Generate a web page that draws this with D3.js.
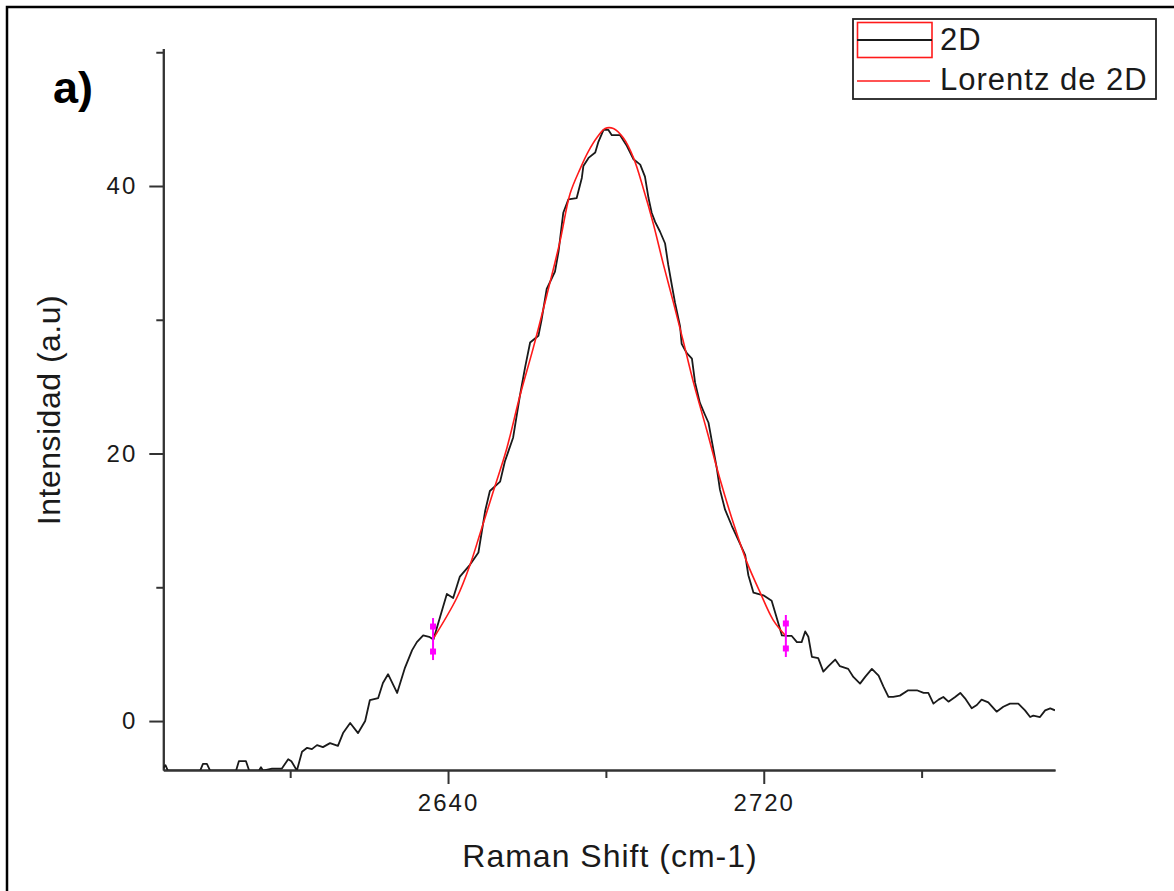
<!DOCTYPE html>
<html>
<head>
<meta charset="utf-8">
<script src="https://cdn.jsdelivr.net/npm/d3@7"></script>
<style>
  body { margin: 0; background: #fff; }
  text { font-family: "Liberation Sans", Arial, sans-serif; fill: #1a1a1a; }
</style>
</head>
<body>
<div id="chart"></div>
<script>
var ramanShift = [2567.9, 2568.4, 2569.0, 2577.2, 2577.9, 2578.9, 2579.7, 2586.3, 2587.0, 2588.8,
  2589.6, 2592.1, 2592.6, 2593.1, 2595.4, 2597.9, 2599.5, 2600.3, 2601.7, 2603.0,
  2604.3, 2605.5, 2606.8, 2608.3, 2610.1, 2612.1, 2613.4, 2615.2, 2617.2, 2619.0,
  2620.2, 2622.3, 2623.5, 2624.8, 2627.1, 2629.1, 2630.9, 2632.1, 2633.7, 2635.2,
  2636.3, 2638.0, 2639.7, 2641.3, 2643.0, 2645.6, 2647.7, 2649.4, 2650.6, 2653.2,
  2654.4, 2656.5, 2658.2, 2659.5, 2660.8, 2662.9, 2663.7, 2665.0, 2667.1, 2668.0,
  2669.2, 2670.5, 2672.6, 2673.9, 2674.3, 2675.6, 2677.3, 2678.1, 2679.4, 2680.6,
  2681.5, 2683.6, 2685.3, 2687.0, 2688.7, 2689.9, 2690.8, 2691.6, 2692.5, 2693.7,
  2695.0, 2695.8, 2696.7, 2697.5, 2698.8, 2699.2, 2700.5, 2701.8, 2702.6, 2703.8,
  2705.1, 2706.0, 2706.8, 2708.1, 2708.9, 2710.2, 2711.9, 2713.6, 2715.3, 2716.1,
  2717.4, 2719.9, 2722.0, 2723.3, 2724.6, 2726.0, 2727.1, 2728.4, 2729.6, 2730.5,
  2731.3, 2732.2, 2733.8, 2735.1, 2736.4, 2738.1, 2739.3, 2741.4, 2742.7, 2744.4,
  2745.7, 2747.4, 2749.1, 2750.3, 2751.6, 2752.8, 2754.5, 2756.6, 2758.8, 2760.5,
  2761.7, 2763.0, 2764.3, 2765.5, 2766.8, 2768.5, 2769.8, 2771.0, 2772.7, 2774.0,
  2775.2, 2776.9, 2779.0, 2780.7, 2782.4, 2784.5, 2786.2, 2787.5, 2788.3, 2790.0,
  2791.3, 2792.6, 2793.8];
var intensity2D = [-3.5, -3.3, -3.7, -3.7, -3.2, -3.2, -3.7, -3.7, -3.0, -3.0,
  -3.7, -3.7, -3.45, -3.7, -3.55, -3.55, -2.85, -3.0, -3.7, -2.3,
  -2.0, -2.1, -1.8, -1.95, -1.65, -1.85, -0.9, -0.15, -0.9, 0.0,
  1.57, 1.72, 2.84, 3.5, 2.1, 4.0, 5.3, 5.9, 6.4, 6.3,
  6.1, 7.8, 9.5, 9.2, 10.8, 11.7, 12.6, 15.7, 17.2, 17.9,
  19.4, 21.2, 24.3, 26.4, 28.3, 28.8, 30.0, 32.3, 33.6, 35.1,
  38.0, 39.0, 39.1, 40.6, 41.5, 42.1, 42.5, 43.3, 44.2, 44.2,
  43.8, 43.8, 43.0, 42.0, 41.6, 40.7, 39.1, 38.0, 37.3, 36.6,
  35.7, 34.1, 32.6, 31.3, 29.5, 28.2, 27.5, 27.1, 25.3, 23.8,
  22.9, 22.3, 21.0, 18.9, 17.3, 15.8, 14.6, 13.5, 12.4, 10.9,
  9.6, 9.4, 9.0, 7.7, 6.4, 6.36, 6.36, 5.9, 5.9, 6.7,
  6.3, 4.8, 4.7, 3.7, 4.1, 4.6, 4.1, 3.9, 3.3, 2.8,
  3.3, 3.9, 3.4, 2.6, 1.8, 1.8, 1.9, 2.3, 2.3, 2.1,
  2.1, 1.3, 1.6, 1.8, 1.45, 1.8, 2.1, 1.7, 0.95, 1.2,
  1.6, 1.4, 0.7, 1.07, 1.3, 1.3, 0.8, 0.3, 0.4, 0.3,
  0.8, 0.95, 0.8];

// Lorentz fit curve
var fitShift = [2636.2, 2642.2, 2645.6, 2648.1, 2651.5, 2654.9, 2658.2, 2661.6, 2665.0, 2668.4,
  2670.9, 2673.5, 2675.6, 2677.7, 2679.8, 2681.9, 2684.4, 2687.0, 2689.5, 2692.0,
  2694.6, 2697.1, 2699.6, 2702.2, 2705.6, 2708.9, 2712.3, 2715.7, 2719.1, 2722.4,
  2725.6];
var fitIntensity = [6.13, 9.2, 11.7, 14.0, 17.2, 20.4, 24.3, 27.9, 31.8, 35.9,
  39.4, 41.3, 42.6, 43.6, 44.3, 44.3, 43.6, 42.1, 39.8, 37.2,
  34.1, 31.3, 28.4, 25.3, 21.7, 18.1, 14.8, 11.9, 9.6, 7.55,
  6.36];

var xMajorTicks = [2640, 2720];
var xMinorTicks = [2600, 2680, 2760];
var yMajorTicks = [0, 20, 40];
var yMinorTicks = [10, 30, 50];
var legendLabels = ["2D", "Lorentz de 2D"];

// set up basic svg
var svgWidth = 1174;
var svgHeight = 891;

var margin = {
  top: 48.5,
  right: 119,
  bottom: 121,
  left: 163.3
};

var width = svgWidth - margin.left - margin.right;
var height = svgHeight - margin.top - margin.bottom;

var svg = d3.select("#chart")
  .append("svg")
  .attr("width", svgWidth)
  .attr("height", svgHeight);

// outer frame (only top and left edges are inside the picture)
svg.append("rect")
  .attr("x", 7)
  .attr("y", 7)
  .attr("width", 1400)
  .attr("height", 1200)
  .attr("fill", "none")
  .attr("stroke", "#000")
  .attr("stroke-width", 2.5);

var chartGroup = svg.append("g")
  .attr("transform", `translate(${margin.left}, ${margin.top})`);

var xScale = d3.scaleLinear()
  .domain([2567.85, 2793.8])
  .range([0, width]);

var yScale = d3.scaleLinear()
  .domain([-3.66, 50.28])
  .range([height, 0]);

chartGroup.append("clipPath")
  .attr("id", "plot-clip")
  .append("rect")
  .attr("width", width)
  .attr("height", height);

// axes: minor ticks first, then major ticks with labels
var axisColor = "#333";

function styleAxis(g) {
  g.selectAll("path, line").attr("stroke", axisColor).attr("stroke-width", 2);
  g.selectAll("text")
    .attr("fill", "#1a1a1a")
    .style("font-size", "24px")
    .style("letter-spacing", "2px")
    .style("font-family", "'Liberation Sans', Arial, sans-serif");
}

chartGroup.append("g")
  .attr("transform", `translate(0, ${height})`)
  .call(d3.axisBottom(xScale).tickValues(xMinorTicks).tickSize(8).tickSizeOuter(0).tickFormat(""))
  .call(styleAxis);

chartGroup.append("g")
  .attr("transform", `translate(0, ${height})`)
  .call(d3.axisBottom(xScale).tickValues(xMajorTicks).tickSize(14).tickSizeOuter(0).tickPadding(10).tickFormat(d3.format("d")))
  .call(styleAxis);

chartGroup.append("g")
  .call(d3.axisLeft(yScale).tickValues(yMinorTicks).tickSize(7).tickSizeOuter(0).tickFormat(""))
  .call(styleAxis);

chartGroup.append("g")
  .call(d3.axisLeft(yScale).tickValues(yMajorTicks).tickSize(14).tickSizeOuter(0).tickPadding(12).tickFormat(d3.format("d")))
  .call(styleAxis);

// spectrum and fit
var spectrum = ramanShift.map((x, i) => [x, intensity2D[i]]);
var fit = fitShift.map((x, i) => [x, fitIntensity[i]]);

var plotArea = chartGroup.append("g").attr("clip-path", "url(#plot-clip)");

plotArea.append("path")
  .datum(spectrum)
  .attr("fill", "none")
  .attr("stroke", "#1a1a1a")
  .attr("stroke-width", 1.8)
  .attr("stroke-linejoin", "round")
  .attr("d", d3.line().x(d => xScale(d[0])).y(d => yScale(d[1])));

plotArea.append("path")
  .datum(fit)
  .attr("fill", "none")
  .attr("stroke", "#ff1a1a")
  .attr("stroke-width", 1.6)
  .attr("d", d3.line().curve(d3.curveCatmullRom).x(d => xScale(d[0])).y(d => yScale(d[1])));

// fit range markers (magenta)
[fit[0], fit[fit.length - 1]].forEach(function (d) {
  var cx = xScale(d[0]);
  var cy = yScale(d[1]);
  chartGroup.append("line")
    .attr("x1", cx).attr("x2", cx)
    .attr("y1", cy - 21).attr("y2", cy + 21)
    .attr("stroke", "#ff00ff")
    .attr("stroke-width", 2);
  [-12.5, 12.5].forEach(function (off) {
    chartGroup.append("rect")
      .attr("x", cx - 3).attr("y", cy + off - 3)
      .attr("width", 6).attr("height", 6)
      .attr("fill", "#ff00ff");
  });
});

// axis titles
svg.append("text")
  .attr("x", 610)
  .attr("y", 867)
  .attr("text-anchor", "middle")
  .style("font-size", "32px")
  .style("letter-spacing", "1px")
  .text("Raman Shift (cm-1)");

svg.append("text")
  .attr("transform", "translate(60, 410) rotate(-90)")
  .attr("text-anchor", "middle")
  .style("font-size", "32px")
  .style("letter-spacing", "0.5px")
  .text("Intensidad (a.u)");

// panel label
svg.append("text")
  .attr("x", 53)
  .attr("y", 103)
  .style("font-size", "45px")
  .style("font-weight", "bold")
  .style("fill", "#000")
  .text("a)");

// legend
var legend = svg.append("g");

legend.append("rect")
  .attr("x", 853).attr("y", 19)
  .attr("width", 303).attr("height", 80)
  .attr("fill", "#fff")
  .attr("stroke", "#222")
  .attr("stroke-width", 1.8);

legend.append("rect")
  .attr("x", 857.5).attr("y", 22.5)
  .attr("width", 74.5).attr("height", 35)
  .attr("fill", "none")
  .attr("stroke", "#ff1a1a")
  .attr("stroke-width", 1.6);

legend.append("line")
  .attr("x1", 857).attr("x2", 932)
  .attr("y1", 40).attr("y2", 40)
  .attr("stroke", "#1a1a1a")
  .attr("stroke-width", 1.8);

legend.append("line")
  .attr("x1", 857).attr("x2", 930)
  .attr("y1", 81).attr("y2", 81)
  .attr("stroke", "#ff1a1a")
  .attr("stroke-width", 1.6);

legend.selectAll("text.leg")
  .data(legendLabels)
  .enter()
  .append("text")
  .attr("class", "leg")
  .attr("x", 940)
  .attr("y", (d, i) => 50 + i * 40)
  .style("font-size", "31px")
  .style("letter-spacing", "1px")
  .text(d => d);
</script>
</body>
</html>
